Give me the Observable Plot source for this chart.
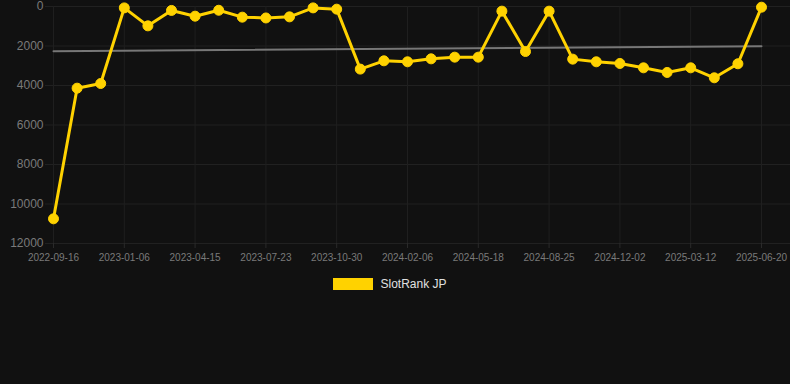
<!DOCTYPE html>
<html>
<head>
<meta charset="utf-8">
<script src="https://cdn.jsdelivr.net/npm/d3@7"></script>
<script src="https://cdn.jsdelivr.net/npm/@observablehq/plot@0.6"></script>
<style>
  html, body { margin: 0; padding: 0; background: #111111; }
  body { width: 790px; height: 384px; overflow: hidden; font-family: "Liberation Sans", Arial, sans-serif; }
  #legend { display: flex; justify-content: center; align-items: center; height: 28px; margin-left: -10px; }
  #legend .sw { width: 40px; height: 12px; background: #ffd200; margin-right: 7px; }
  #legend .lb { color: #e0e0e0; font-size: 12px; }
</style>
</head>
<body>
<div id="chart"></div>
<div id="legend"><div class="sw"></div><div class="lb">SlotRank JP</div></div>
<script>
const dates = [
  "2022-09-16","2022-10-23","2022-11-29","2023-01-06","2023-02-08","2023-03-13",
  "2023-04-15","2023-05-18","2023-06-20","2023-07-23","2023-08-25","2023-09-27",
  "2023-10-30","2023-12-02","2024-01-04","2024-02-06","2024-03-10","2024-04-13",
  "2024-05-18","2024-06-20","2024-07-23","2024-08-25","2024-09-27","2024-10-30",
  "2024-12-02","2025-01-04","2025-02-06","2025-03-12","2025-04-14","2025-05-17",
  "2025-06-20"
];
const ranks = [
  10750, 4135, 3900, 70, 980, 200,
  490, 190, 540, 580, 525, 70,
  135, 3170, 2750, 2800, 2650, 2565,
  2565, 235, 2280, 235, 2665, 2800,
  2885, 3105, 3340, 3105, 3610, 2900,
  35
];
const tickLabels = dates.filter((d, i) => i % 3 === 0);
const yTicks = [0, 2000, 4000, 6000, 8000, 10000, 12000];
const trendDates = [dates[0], dates[dates.length - 1]];
const trendValues = [2260, 2010];

const series = dates.map((d, i) => ({date: d, rank: ranks[i]}));
const trend = trendDates.map((d, i) => ({date: d, rank: trendValues[i]}));

const chart = Plot.plot({
  width: 790,
  height: 270,
  marginLeft: 45,
  marginRight: 0,
  marginTop: 6,
  marginBottom: 27,
  style: { background: "#111111", fontFamily: "Liberation Sans, Arial, sans-serif", overflow: "visible" },
  x: { type: "point", domain: dates, padding: 0, round: false, range: [53, 761] },
  y: { domain: [0, 12000], reverse: true },
  marks: [
    Plot.ruleY(yTicks, { stroke: "#212121", strokeWidth: 1 }),
    Plot.ruleX(tickLabels, { y1: 0, y2: 12000, stroke: "#1f1f1f", strokeWidth: 1 }),
    Plot.axisY({ ticks: yTicks, tickSize: 0, tickPadding: 2, fontSize: 12, fill: "#7a7a7a", label: null, tickFormat: d => String(d) }),
    Plot.axisX({ ticks: tickLabels, tickSize: 5, tickPadding: 5, fontSize: 10, fill: "#7a7a7a", stroke: "#2a2a2a", label: null }),
    Plot.line(trend, { x: "date", y: "rank", stroke: "#777777", strokeWidth: 2 }),
    Plot.line(series, { x: "date", y: "rank", stroke: "#ffd200", strokeWidth: 3, curve: "linear" }),
    Plot.dot(series, { x: "date", y: "rank", r: 5, fill: "#ffd200", stroke: "#ffd200", strokeWidth: 1 })
  ]
});
document.getElementById("chart").appendChild(chart);
</script>
</body>
</html>
